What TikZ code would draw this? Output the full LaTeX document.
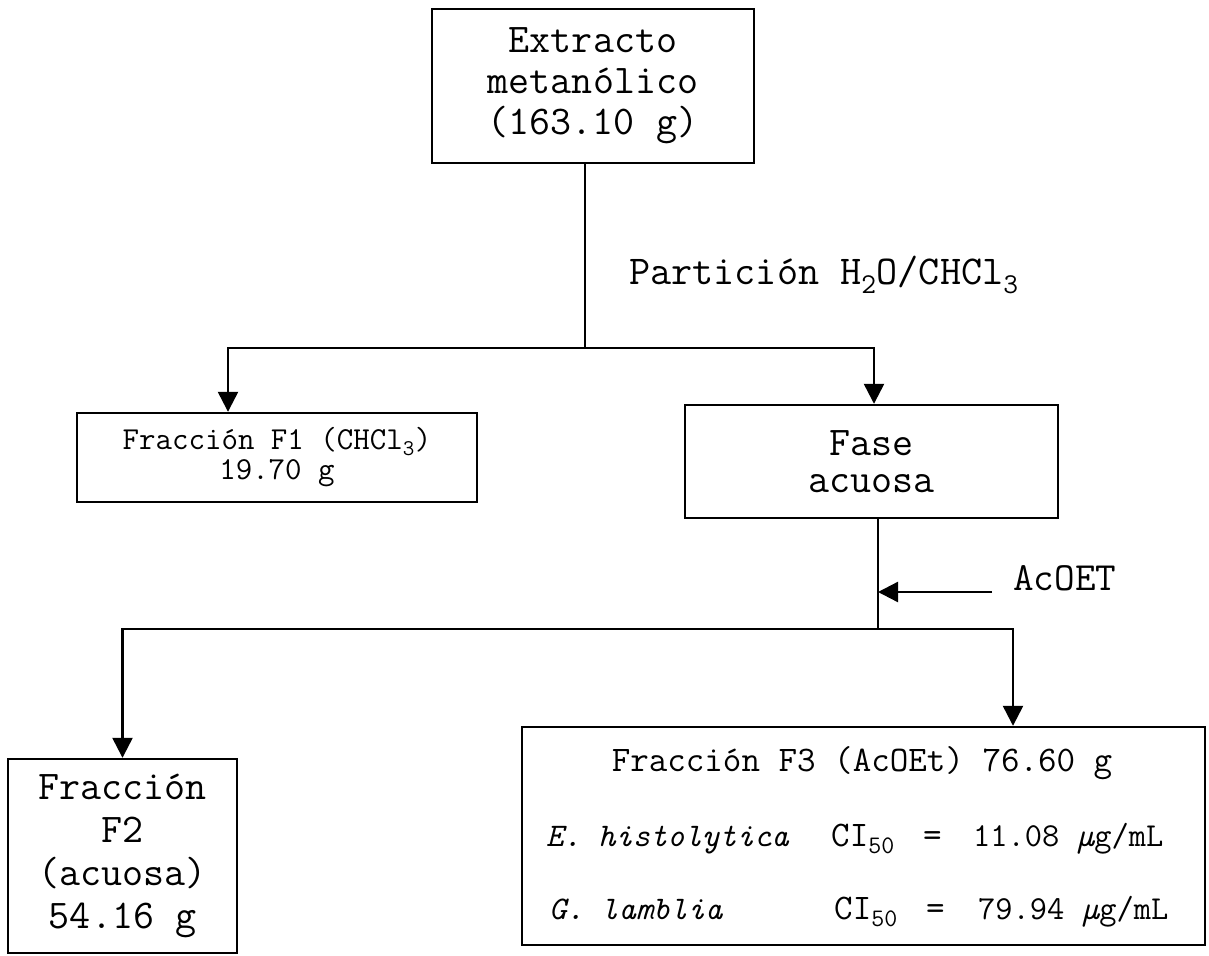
\documentclass[tikz,border=0pt]{standalone}
\usepackage{fontspec}
\renewcommand{\familydefault}{\ttdefault}
\usetikzlibrary{arrows.meta}
\newcommand{\mymu}{{\itshape µ}}
\begin{document}
\begin{tikzpicture}[x=1pt,y=-1pt, line width=2.4pt,
  box/.style={draw, rectangle, inner sep=0pt, align=center},
  arr/.style={-{Triangle[length=20pt,width=20pt]}},
  big/.style={font=\ttfamily\fontsize{40.8}{41}\selectfont},
  mid/.style={font=\ttfamily\fontsize{36}{36}\selectfont},
  val/.style={font=\ttfamily\fontsize{33.5}{36}\selectfont},
  lbl/.style={inner sep=0pt, anchor=base west}]
\useasboundingbox (0,0) rectangle (1209,955);
% boxes
\node[box, big, minimum width=322pt, minimum height=154pt] (top) at (593,86)
  {Extracto\\metanólico\\(163.10 g)};
\node[box, font=\ttfamily\fontsize{32}{30}\selectfont, minimum width=400pt, minimum height=89pt] (f1) at (277,457.5)
  {Fracción F1 (CHCl\textsubscript{3})\\19.70 g};
\node[box, font=\ttfamily\fontsize{40.8}{37}\selectfont, minimum width=373pt, minimum height=113pt] (fase) at (871.5,461.5)
  {Fase\\acuosa};
\node[box, font=\ttfamily\fontsize{40.8}{43}\selectfont, minimum width=229pt, minimum height=194pt] (f2) at (122.5,856)
  {Fracción\\F2\\(acuosa)\\54.16 g};
\node[box, minimum width=683pt, minimum height=218pt] (f3) at (863.5,836) {};
% F3 content
\node[mid, inner sep=0pt, anchor=base] (f3t) at (862,771.5) {Fracción F3 (AcOEt) 76.60 g};
\node[lbl, font=\ttfamily\itshape\fontsize{33}{36}\selectfont] (eh) at (545,846.5) {E. histolytica};
\node[mid, lbl] (ci1) at (830,846.5) {CI\textsubscript{50}};
\node[mid, lbl] (eq1) at (922,846.5) {=};
\node[val, lbl] (v1) at (972,846.5) {11.08 \mymu g/mL};
\node[lbl, font=\ttfamily\itshape\fontsize{33}{36}\selectfont] (gl) at (548,919.5) {G. lamblia};
\node[mid, lbl] (ci2) at (833,919.5) {CI\textsubscript{50}};
\node[mid, lbl] (eq2) at (925,919.5) {=};
\node[val, lbl] (v2) at (977,919.5) {79.94 \mymu g/mL};
% labels
\node[font=\ttfamily\fontsize{41}{44}\selectfont, inner sep=0pt, anchor=west] (part) at (628,275) {Partición H\textsubscript{2}O/CHCl\textsubscript{3}};
\node[font=\ttfamily\fontsize{40}{44}\selectfont, inner sep=0pt, anchor=west] (acoet) at (1012,578) {AcOET};
% junctions
\coordinate (j1) at (585,348);
\coordinate (j2) at (878,629);
\coordinate (a1) at (992,592);
\coordinate (a2) at (878,592);
% connectors
\draw ([xshift=-8pt]top.south) -- (j1);
\draw[arr] (j1) -| ([xshift=-49pt]f1.north);
\draw[arr] (j1) -| ([xshift=2.5pt]fase.north);
\draw ([xshift=6.5pt]fase.south) -- (j2);
\draw[arr] (a1) -- (a2);
\draw[arr] (j2) -| (f2.north);
\draw[arr] (j2) -| ([xshift=149.5pt]f3.north);
\end{tikzpicture}
\end{document}
